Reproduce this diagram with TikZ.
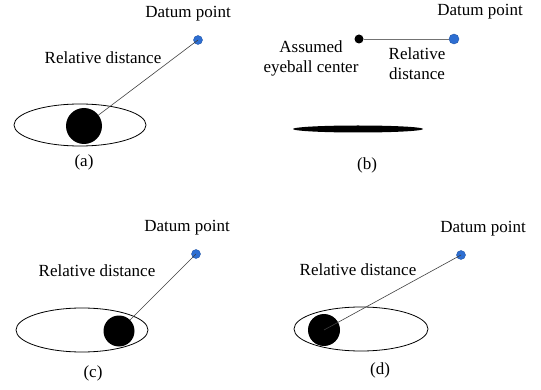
\documentclass[tikz,border=0pt]{standalone}
\usepackage{fontspec}
\setmainfont{Liberation Serif}
\usepackage{tikz}
\usetikzlibrary{shapes.geometric, positioning}
\definecolor{datumblue}{RGB}{45,110,210}
\tikzstyle{datum} = [circle, inner sep=0pt, minimum size=9pt, fill=datumblue, draw=datumblue!80!black, thin]
\tikzstyle{pupil} = [circle, inner sep=0pt, fill=black]
\tikzstyle{eyelid} = [ellipse, inner sep=0pt, draw=black, thick]
\tikzstyle{txt} = [font=\fontsize{17}{20}\selectfont, inner sep=1pt, align=center]
\tikzstyle{link} = [draw=black!75, semithick]

\begin{document}
\begin{tikzpicture}[x=1pt, y=-1pt]
            \useasboundingbox (0,0) rectangle (541,390);
            % (a)
            \node (eyeA) [eyelid, minimum width=132pt, minimum height=42pt] at (80,125) {};
            \node (pupilA) [pupil, minimum size=36pt] at (84,126) {};
            \node (datumA) [datum] at (198,40) {};
            \node (datumtxtA) [txt] at (188,14) {Datum point};
            \node (reltxtA) [txt] at (103,58) {Relative distance};
            \node (capA) [txt] at (84,162) {(a)};
            \draw [link] (pupilA) -- (datumA.center);

            % (b)
            \node (eyeB) [ellipse, inner sep=0pt, fill=black, minimum width=130pt, minimum height=7pt] at (358,129) {};
            \node (centerB) [pupil, minimum size=9pt] at (359,39) {};
            \node (datumB) [datum, minimum size=10pt] at (454,39) {};
            \node (datumtxtB) [txt] at (480,12) {Datum point};
            \node (centertxtB) [txt] at (311,58) {Assumed\\eyeball center};
            \node (reltxtB) [txt] at (417,64) {Relative\\distance};
            \node (capB) [txt] at (367,165) {(b)};
            \draw [link, draw=black!55] (centerB) -- (datumB);

            % (c)
            \node (eyeC) [eyelid, minimum width=132pt, minimum height=44pt] at (82,330) {};
            \node (pupilC) [pupil, minimum size=31pt] at (119,331) {};
            \node (datumC) [datum] at (196,254) {};
            \node (datumtxtC) [txt] at (187,228) {Datum point};
            \node (reltxtC) [txt] at (97,271) {Relative distance};
            \node (capC) [txt] at (93,373) {(c)};
            \draw [link] (pupilC) -- (datumC.center);

            % (d)
            \node (eyeD) [eyelid, minimum width=134pt, minimum height=44pt] at (361,329) {};
            \node (pupilD) [pupil, minimum size=32pt] at (324,330) {};
            \node (datumD) [datum] at (461,255) {};
            \node (datumtxtD) [txt] at (483,229) {Datum point};
            \node (reltxtD) [txt] at (358,270) {Relative distance};
            \node (capD) [txt] at (380,370) {(d)};
            \draw [link] (pupilD.center) -- (datumD.center);
        \end{tikzpicture}
\end{document}
